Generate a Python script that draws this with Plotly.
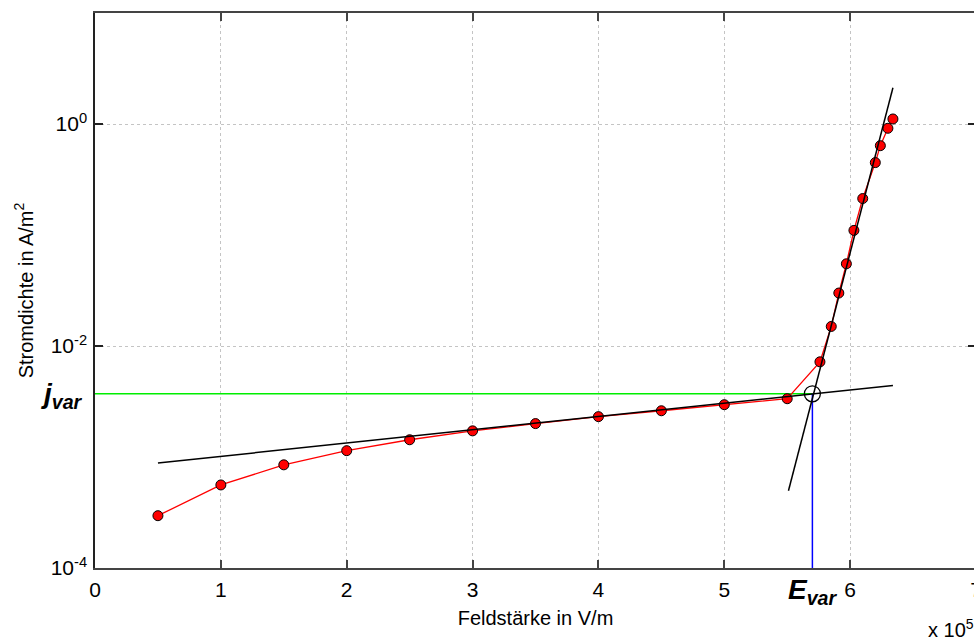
import math
import plotly.graph_objects as go

# Data (x in units of 1e5 V/m, y in A/m^2)
field = [0.5, 1.0, 1.5, 2.0, 2.5, 3.0, 3.5, 4.0, 4.5, 5.0, 5.5,
         5.76, 5.85, 5.91, 5.97, 6.03, 6.10, 6.20, 6.24, 6.30, 6.34]
current = [2.96e-4, 5.6e-4, 8.5e-4, 1.14e-3, 1.43e-3, 1.72e-3, 2.0e-3, 2.31e-3, 2.61e-3, 2.96e-3, 3.35e-3,
           7.2e-3, 0.015, 0.030, 0.055, 0.110, 0.213, 0.449, 0.638, 0.915, 1.11]

fit_low_x = [0.5, 6.34]
fit_low_y = [8.83e-4, 4.41e-3]
fit_high_x = [5.51, 6.34]
fit_high_y = [4.97e-4, 2.12]

E_var = 5.70
j_var = 3.71e-3

x_ticks = [0, 1, 2, 3, 4, 5, 6, 7]
y_ticks = [1e-4, 1e-2, 1e0]
y_ticktext = ["10<sup>-4</sup>", "10<sup>-2</sup>", "10<sup>0</sup>"]

FONT = "Arial"
FS_XTICK = 21
FS_YTICK = 21
FS_TITLE = 20

fig = go.Figure()

fig.add_trace(go.Scatter(x=[0, E_var], y=[j_var, j_var], mode="lines",
                         line=dict(color="#00ee00", width=1.5), hoverinfo="skip"))
fig.add_trace(go.Scatter(x=[E_var, E_var], y=[1e-4, j_var], mode="lines",
                         line=dict(color="#0000ff", width=1.5), hoverinfo="skip"))
fig.add_trace(go.Scatter(x=field, y=current, mode="lines+markers",
                         line=dict(color="#ff0000", width=1.3),
                         marker=dict(color="#ff0000", size=10, line=dict(color="black", width=1))))
fig.add_trace(go.Scatter(x=fit_low_x, y=fit_low_y, mode="lines",
                         line=dict(color="black", width=1.5)))
fig.add_trace(go.Scatter(x=fit_high_x, y=fit_high_y, mode="lines",
                         line=dict(color="black", width=1.5)))
fig.add_trace(go.Scatter(x=[E_var], y=[j_var], mode="markers",
                         marker=dict(symbol="circle-open", size=16, color="black", line=dict(width=1.3))))

fig.update_layout(
    width=1000, height=650,
    margin=dict(l=95, r=24, t=13, b=82),
    paper_bgcolor="white", plot_bgcolor="white",
    showlegend=False,
    font=dict(family=FONT, size=FS_XTICK, color="black"),
    xaxis=dict(range=[0, 7], tickmode="array", tickvals=x_ticks, ticktext=[str(v) for v in x_ticks],
               tickfont=dict(family=FONT, size=FS_XTICK, color="black"),
               showgrid=True, gridcolor="#c4c4c4", griddash="dot", gridwidth=1,
               showline=True, linecolor="#444444", linewidth=2, mirror="ticks",
               ticks="inside", ticklen=8, tickcolor="#444444", tickwidth=1.5,
               zeroline=False, ticklabelstandoff=2,
               title=dict(text="Feldstärke in V/m", font=dict(family=FONT, size=FS_TITLE, color="black"), standoff=11)),
    yaxis=dict(type="log", range=[-4, 1], tickmode="array", tickvals=y_ticks, ticktext=y_ticktext,
               tickfont=dict(family=FONT, size=FS_YTICK, color="black"),
               showgrid=True, gridcolor="#c4c4c4", griddash="dot", gridwidth=1,
               showline=True, linecolor="#222222", linewidth=1.5, mirror="ticks",
               ticks="inside", ticklen=8, tickcolor="#222222", tickwidth=1.5,
               zeroline=False, ticklabelstandoff=2,
               title=dict(text="Stromdichte in A/m<sup>2</sup>", font=dict(family=FONT, size=FS_TITLE, color="black"), standoff=12)),
)

fig.add_annotation(xref="paper", yref="y", x=0, y=math.log10(j_var), xanchor="right", yanchor="middle",
                   xshift=-10, yshift=-2, showarrow=False,
                   text="<b><i>j<sub>var</sub></i></b>", font=dict(size=28, family=FONT, color="black"))
fig.add_annotation(xref="x", yref="paper", x=E_var, y=0, xanchor="center", yanchor="top",
                   xshift=0, yshift=-4, showarrow=False,
                   text="<b><i>E<sub>var</sub></i></b>", font=dict(size=28, family=FONT, color="black"))
fig.add_annotation(xref="paper", yref="paper", x=1, y=0, xanchor="left", yanchor="top",
                   xshift=-50, yshift=-46, showarrow=False,
                   text="x 10<sup>5</sup>", font=dict(size=FS_TITLE, family=FONT, color="black"))

fig.write_html("out.html",
               post_script="document.body.style.overflow='hidden';document.documentElement.style.overflow='hidden';document.body.style.margin='0';")
